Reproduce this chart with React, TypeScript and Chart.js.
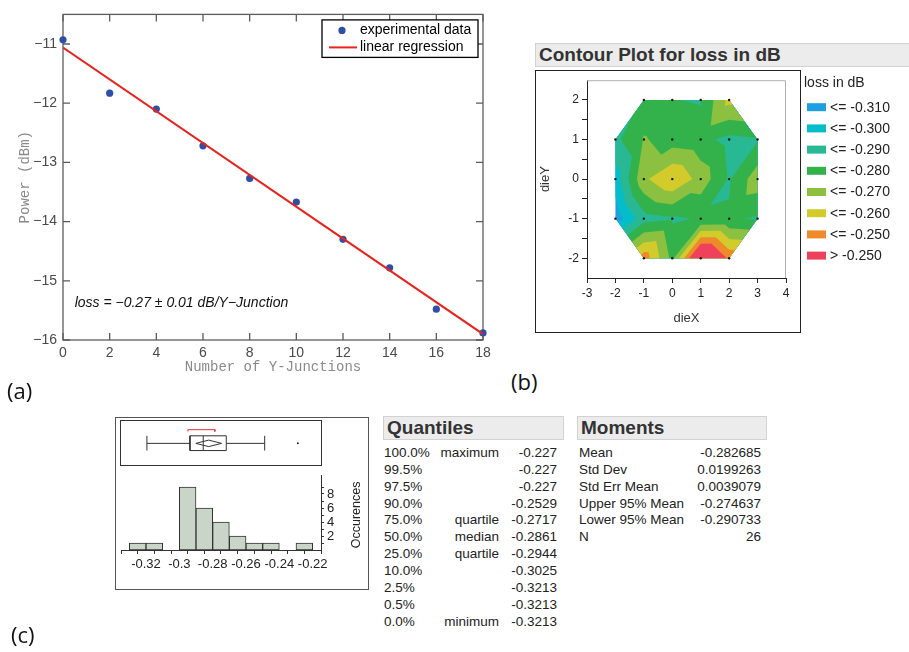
import React, { useEffect, useRef } from 'react';
import { Chart, registerables } from 'chart.js';

Chart.register(...registerables);

const SANS = "'Liberation Sans', Arial, Helvetica, sans-serif";
const MONO = "'Liberation Mono', 'Courier New', monospace";
Chart.defaults.font.family = SANS;

// ---------- Panel (a) ----------
const JUNCTIONS = [0, 2, 4, 6, 8, 10, 12, 14, 16, 18];
const POWER_DBM = [-10.93, -11.83, -12.1, -12.72, -13.27, -13.67, -14.3, -14.78, -15.48, -15.88];
const FIT_X = [0, 18];
const FIT_DBM = [-11.06, -15.9];
const A_X_TICKS = [0, 2, 4, 6, 8, 10, 12, 14, 16, 18];
const A_Y_TICKS = [-16, -15, -14, -13, -12, -11];
const A_LEGEND = ['experimental data', 'linear regression'];
const LOSS_NOTE = 'loss = \u22120.27 \u00b1 0.01 dB/Y\u2212Junction';

// ---------- Panel (b) ----------
const DIE_X = [-1, 0, 1, 2, -2, -1, 0, 1, 2, 3, -2, -1, 0, 1, 2, 3, -2, -1, 0, 1, 2, 3, -1, 0, 1, 2];
const DIE_Y = [2, 2, 2, 2, 1, 1, 1, 1, 1, 1, 0, 0, 0, 0, 0, 0, -1, -1, -1, -1, -1, -1, -2, -2, -2, -2];
const DIE_LOSS = [
  -0.2885, -0.2898, -0.2906, -0.267,
  -0.2925, -0.279, -0.285, -0.287, -0.293, -0.291,
  -0.305, -0.272, -0.2605, -0.274, -0.291, -0.274,
  -0.316, -0.294, -0.291, -0.2895, -0.289, -0.291,
  -0.254, -0.283, -0.227, -0.252,
];
const BAND_EDGES = [-0.31, -0.3, -0.29, -0.28, -0.27, -0.26, -0.25];
const BAND_LABELS = ['<= -0.310', '<= -0.300', '<= -0.290', '<= -0.280', '<= -0.270', '<= -0.260', '<= -0.250', '> -0.250'];
const BAND_COLORS = ['#1e9fe0', '#05bccb', '#29b894', '#33b24b', '#8cc041', '#d3cb2b', '#ef8a2b', '#ef415b'];
const B_X_TICKS = [-3, -2, -1, 0, 1, 2, 3, 4];
const B_Y_TICKS = [-2, -1.5, -1, -0.5, 0, 0.5, 1, 1.5, 2];

// ---------- Panel (c) ----------
const HIST_CENTERS = [-0.325, -0.315, -0.305, -0.295, -0.285, -0.275, -0.265, -0.255, -0.245, -0.235, -0.225];
const HIST_COUNTS = [1, 1, 0, 9, 6, 4, 2, 1, 1, 0, 1];
const HIST_X_TICKS = [-0.33, -0.32, -0.31, -0.3, -0.29, -0.28, -0.27, -0.26, -0.25, -0.24, -0.23, -0.22];
const HIST_X_LABELS = ['', '-0.32', '', '-0.3', '', '-0.28', '', '-0.26', '', '-0.24', '', '-0.22'];
const HIST_Y_TICKS = [1, 2, 3, 4, 5, 6, 7, 8, 9];
const HIST_Y_LABELS = ['', '2', '', '4', '', '6', '', '8', ''];
const BOX_WHISKERS = [-0.3213, -0.2477];
const BOX_QUARTILES = [-0.2944, -0.2861, -0.2717];
const MEAN_DIAMOND = [-0.290733, -0.282685, -0.274637];
const SHORTEST_HALF = [-0.2957, -0.2788];
const OUTLIERS = [-0.227];

const Q_PCT = ['100.0%', '99.5%', '97.5%', '90.0%', '75.0%', '50.0%', '25.0%', '10.0%', '2.5%', '0.5%', '0.0%'];
const Q_NAME = ['maximum', '', '', '', 'quartile', 'median', 'quartile', '', '', '', 'minimum'];
const Q_VAL = ['-0.227', '-0.227', '-0.227', '-0.2529', '-0.2717', '-0.2861', '-0.2944', '-0.3025', '-0.3213', '-0.3213', '-0.3213'];
const M_NAME = ['Mean', 'Std Dev', 'Std Err Mean', 'Upper 95% Mean', 'Lower 95% Mean', 'N'];
const M_VAL = ['-0.282685', '0.0199263', '0.0039079', '-0.274637', '-0.290733', '26'];

const BLUE = '#2f4ea6';
const RED = '#e8241e';

// ---------------- chart A ----------------
function makeA(): any {
  const framePlugin = {
    id: 'frameA',
    beforeDatasetsDraw(chart: any) {
      const { ctx, chartArea: a, scales } = chart;
      ctx.save();
      ctx.strokeStyle = '#5c5c5c';
      ctx.lineWidth = 1.3;
      ctx.strokeRect(a.left, a.top, a.right - a.left, a.bottom - a.top);
      const L = 7;
      ctx.beginPath();
      for (const v of A_X_TICKS) {
        const px = scales.x.getPixelForValue(v);
        ctx.moveTo(px, a.bottom); ctx.lineTo(px, a.bottom - L);
        ctx.moveTo(px, a.top); ctx.lineTo(px, a.top + L);
      }
      for (const v of A_Y_TICKS) {
        const py = scales.y.getPixelForValue(v);
        ctx.moveTo(a.left, py); ctx.lineTo(a.left + L, py);
        ctx.moveTo(a.right, py); ctx.lineTo(a.right - L, py);
      }
      ctx.stroke();
      ctx.font = `italic 14px ${SANS}`;
      ctx.fillStyle = '#111';
      ctx.textBaseline = 'middle';
      ctx.textAlign = 'left';
      ctx.fillText(LOSS_NOTE, scales.x.getPixelForValue(0.5), scales.y.getPixelForValue(-15.38));
      ctx.restore();
    },
    afterDatasetsDraw(chart: any) {
      const { ctx, chartArea: a } = chart;
      const ds = chart.data.datasets;
      ctx.save();
      const lx = a.right - 161, ly = a.top + 5.5, lw = 156, lh = 37.5;
      ctx.fillStyle = '#fff';
      ctx.fillRect(lx, ly, lw, lh);
      ctx.strokeStyle = '#000';
      ctx.lineWidth = 1.3;
      ctx.strokeRect(lx, ly, lw, lh);
      ctx.font = `14px ${SANS}`;
      ctx.textBaseline = 'middle';
      ctx.textAlign = 'left';
      ctx.fillStyle = ds[0].backgroundColor;
      ctx.beginPath();
      ctx.arc(lx + 20, ly + 10.5, 3.6, 0, Math.PI * 2);
      ctx.fill();
      ctx.fillStyle = '#000';
      ctx.fillText(ds[0].label, lx + 38, ly + 10.5);
      ctx.strokeStyle = ds[1].borderColor;
      ctx.lineWidth = 2;
      ctx.beginPath();
      ctx.moveTo(lx + 7, ly + 27.5);
      ctx.lineTo(lx + 35, ly + 27.5);
      ctx.stroke();
      ctx.fillText(ds[1].label, lx + 38, ly + 27);
      ctx.restore();
    },
  };
  const minus = (v: number) => (v < 0 ? '\u2212' + Math.abs(v) : String(v));
  return {
    type: 'scatter',
    data: {
      datasets: [
        {
          label: A_LEGEND[0],
          data: JUNCTIONS.map((x, i) => ({ x, y: POWER_DBM[i] })),
          backgroundColor: BLUE,
          borderColor: BLUE,
          pointRadius: 3.6,
          pointBorderWidth: 0,
          showLine: false,
          clip: false,
          order: 1,
        },
        {
          label: A_LEGEND[1],
          data: FIT_X.map((x, i) => ({ x, y: FIT_DBM[i] })),
          borderColor: RED,
          backgroundColor: RED,
          borderWidth: 2,
          pointRadius: 0,
          showLine: true,
          order: 0,
        },
      ],
    },
    options: {
      responsive: false,
      animation: false,
      events: [],
      layout: { padding: { top: 9, right: 17, left: 0, bottom: 0 } },
      plugins: { legend: { display: false }, tooltip: { enabled: false } },
      scales: {
        x: {
          type: 'linear', min: 0, max: 18,
          afterBuildTicks: (s: any) => { s.ticks = A_X_TICKS.map((value) => ({ value })); },
          afterFit: (s: any) => { s.height = 40; },
          ticks: { font: { size: 14 }, color: '#4a4a4a', padding: 5, maxRotation: 0, autoSkip: false, callback: (v: any) => minus(v) },
          grid: { display: false, drawTicks: false },
          border: { display: false },
          title: { display: true, text: 'Number of Y-Junctions', font: { family: MONO, size: 14 }, color: '#8a8a8a', padding: { top: 0, bottom: 4 } },
        },
        y: {
          type: 'linear', min: -16, max: -10.5,
          afterBuildTicks: (s: any) => { s.ticks = A_Y_TICKS.map((value) => ({ value })); },
          afterFit: (s: any) => { s.width = 63; },
          ticks: { font: { size: 14 }, color: '#4a4a4a', padding: 6, autoSkip: false, callback: (v: any) => minus(v) },
          grid: { display: false, drawTicks: false },
          border: { display: false },
          title: { display: true, text: 'Power (dBm)', font: { family: MONO, size: 14 }, color: '#8a8a8a', padding: { top: 16.5, bottom: 0 } },
        },
      },
    },
    plugins: [framePlugin],
  };
}

// ---------------- chart B (contour) ----------------
function buildTriangles() {
  const map = new Map<string, any>();
  DIE_X.forEach((x, i) => map.set(`${x},${DIE_Y[i]}`, { x, y: DIE_Y[i], v: DIE_LOSS[i] }));
  const xs = Array.from(new Set(DIE_X)).sort((a, b) => a - b);
  const ys = Array.from(new Set(DIE_Y)).sort((a, b) => a - b);
  const tris: any[] = [];
  for (const x0 of xs) {
    for (const y0 of ys) {
      const a = map.get(`${x0},${y0}`);
      const b = map.get(`${x0 + 1},${y0}`);
      const c = map.get(`${x0 + 1},${y0 + 1}`);
      const d = map.get(`${x0},${y0 + 1}`);
      const pts = [a, b, c, d].filter(Boolean);
      if (pts.length === 4) { tris.push([a, b, c], [a, c, d]); }
      else if (pts.length === 3) tris.push(pts);
    }
  }
  return tris;
}

function clipPoly(poly: any[], f: (p: any) => number) {
  const out: any[] = [];
  for (let i = 0; i < poly.length; i++) {
    const a = poly[i], b = poly[(i + 1) % poly.length];
    const fa = f(a), fb = f(b);
    if (fa >= 0) out.push(a);
    if ((fa >= 0) !== (fb >= 0)) {
      const t = fa / (fa - fb);
      out.push({ x: a.x + t * (b.x - a.x), y: a.y + t * (b.y - a.y), v: a.v + t * (b.v - a.v) });
    }
  }
  return out;
}

function makeB(): any {
  const contourPlugin = {
    id: 'contour',
    beforeDatasetsDraw(chart: any) {
      const { ctx, chartArea: a, scales } = chart;
      const sx = scales.x, sy = scales.y;
      ctx.save();
      ctx.strokeStyle = '#b0b0b0';
      ctx.lineWidth = 1;
      ctx.beginPath();
      ctx.moveTo(a.left, a.top + 0.5); ctx.lineTo(a.right - 0.5, a.top + 0.5); ctx.lineTo(a.right - 0.5, a.bottom);
      ctx.stroke();
      const tris = buildTriangles();
      // layered fill: each layer covers everything above its lower edge, one path per layer
      for (let k = 0; k < BAND_COLORS.length; k++) {
        const lo = k === 0 ? -Infinity : BAND_EDGES[k - 1];
        ctx.beginPath();
        for (const tri of tris) {
          const poly = lo > -Infinity ? clipPoly(tri, (p) => p.v - lo) : tri;
          if (poly.length < 3) continue;
          poly.forEach((p: any, i: number) => {
            const px = sx.getPixelForValue(p.x), py = sy.getPixelForValue(p.y);
            if (i) ctx.lineTo(px, py); else ctx.moveTo(px, py);
          });
          ctx.closePath();
        }
        ctx.fillStyle = BAND_COLORS[k];
        ctx.fill('nonzero');
      }
      ctx.restore();
    },
    afterDraw(chart: any) {
      const { ctx, chartArea: a } = chart;
      ctx.save();
      ctx.font = `14px ${SANS}`;
      ctx.fillStyle = '#222';
      ctx.textAlign = 'left';
      ctx.textBaseline = 'middle';
      const x0 = a.right + 18;
      ctx.fillText('loss in dB', x0, a.top + 3);
      BAND_LABELS.forEach((lab, i) => {
        const cy = a.top + 27 + 21.2 * i;
        ctx.fillStyle = BAND_COLORS[i];
        ctx.fillRect(x0 + 3, cy - 4, 19, 8);
        ctx.fillStyle = '#222';
        ctx.fillText(lab, x0 + 26, cy + 0.5);
      });
      ctx.restore();
    },
  };
  const axisCommon = {
    grid: { display: true, drawOnChartArea: false, drawTicks: true, tickLength: 5, tickColor: '#222', tickWidth: 1 },
    border: { display: true, color: '#222', width: 1 },
  };
  return {
    type: 'scatter',
    data: {
      datasets: [
        {
          label: 'dies',
          data: DIE_X.map((x, i) => ({ x, y: DIE_Y[i] })),
          backgroundColor: '#111',
          borderColor: '#111',
          pointRadius: 1.2,
          pointBorderWidth: 0,
          clip: false,
        },
      ],
    },
    options: {
      responsive: false,
      animation: false,
      events: [],
      layout: { padding: { top: 8, right: 123, left: 0, bottom: 0 } },
      plugins: { legend: { display: false }, tooltip: { enabled: false } },
      scales: {
        x: {
          type: 'linear', min: -3, max: 4,
          afterBuildTicks: (s: any) => { s.ticks = B_X_TICKS.map((value) => ({ value })); },
          afterFit: (s: any) => { s.height = 54; },
          ticks: { font: { size: 12 }, color: '#222', padding: 3, maxRotation: 0, autoSkip: false, callback: (v: any) => String(v) },
          ...axisCommon,
          title: { display: true, text: 'dieX', font: { size: 13 }, color: '#333', padding: { top: 0, bottom: 6 } },
        },
        y: {
          type: 'linear', min: -2.5, max: 2.5,
          afterBuildTicks: (s: any) => { s.ticks = B_Y_TICKS.map((value) => ({ value })); },
          afterFit: (s: any) => { s.width = 52; },
          ticks: { font: { size: 12 }, color: '#222', padding: 3, autoSkip: false, callback: (v: any) => (Number.isInteger(v) ? String(v) : '') },
          ...axisCommon,
          title: { display: true, text: 'dieY', font: { size: 13 }, color: '#333', padding: { top: 3, bottom: 0 } },
        },
      },
    },
    plugins: [contourPlugin],
  };
}

// ---------------- chart C1 (box plot) ----------------
const C_X_MIN = -0.335;
const C_X_MAX = -0.215;

function makeC1(): any {
  const yc = 0.49, yLo = 0.29, yHi = 0.7, dH = 0.09, brTop = 0.87, brEnd = 0.82;
  const [wLo, wHi] = BOX_WHISKERS;
  const [q1, med, q3] = BOX_QUARTILES;
  const [mLo, mean, mHi] = MEAN_DIAMOND;
  const [sLo, sHi] = SHORTEST_HALF;
  const line = (pts: number[][], color = '#333') => ({
    data: pts.map(([x, y]) => ({ x, y })),
    showLine: true,
    borderColor: color,
    borderWidth: 1,
    pointRadius: 0,
    fill: false,
    clip: false,
  });
  return {
    type: 'scatter',
    data: {
      datasets: [
        line([[wLo, yLo], [wLo, yHi]]),
        line([[wLo, yc], [q1, yc]]),
        line([[q3, yc], [wHi, yc]]),
        line([[wHi, yLo], [wHi, yHi]]),
        line([[q1, yLo], [q3, yLo], [q3, yHi], [q1, yHi], [q1, yLo]]),
        line([[med, yLo], [med, yHi]]),
        line([[mLo, yc], [mean, yc + dH], [mHi, yc], [mean, yc - dH], [mLo, yc]]),
        line([[sLo, brEnd], [sLo, brTop], [sHi, brTop], [sHi, brEnd]], '#e0303a'),
        {
          data: OUTLIERS.map((x) => ({ x, y: yc })),
          backgroundColor: '#222',
          pointRadius: 1,
          pointBorderWidth: 0,
          showLine: false,
        },
      ],
    },
    options: {
      responsive: false,
      animation: false,
      events: [],
      layout: { padding: 0 },
      plugins: { legend: { display: false }, tooltip: { enabled: false } },
      scales: {
        x: { type: 'linear', display: false, min: C_X_MIN, max: C_X_MAX },
        y: { type: 'linear', display: false, min: 0, max: 1 },
      },
    },
  };
}

// ---------------- chart C2 (histogram) ----------------
function makeC2(): any {
  const titlePlugin = {
    id: 'occTitle',
    afterDraw(chart: any) {
      const { ctx, chartArea: a } = chart;
      ctx.save();
      ctx.translate(a.right + 36, (a.top + a.bottom) / 2 + 2);
      ctx.rotate(-Math.PI / 2);
      ctx.font = `12.5px ${SANS}`;
      ctx.fillStyle = '#222';
      ctx.textAlign = 'center';
      ctx.textBaseline = 'middle';
      ctx.fillText('Occurences', 0, 0);
      ctx.restore();
    },
  };
  return {
    type: 'bar',
    data: {
      datasets: [
        {
          label: 'Occurences',
          data: HIST_CENTERS.map((x, i) => ({ x, y: HIST_COUNTS[i] })),
          backgroundColor: '#c9d5c8',
          borderColor: '#333',
          borderWidth: 1,
          borderSkipped: false,
          barPercentage: 1,
          categoryPercentage: 1,
        },
      ],
    },
    options: {
      responsive: false,
      animation: false,
      events: [],
      layout: { padding: { left: 11, top: 0, right: 0, bottom: 0 } },
      plugins: { legend: { display: false }, tooltip: { enabled: false } },
      scales: {
        x: {
          type: 'linear', min: C_X_MIN, max: C_X_MAX, offset: false,
          afterBuildTicks: (s: any) => { s.ticks = HIST_X_TICKS.map((value) => ({ value })); },
          afterFit: (s: any) => { s.height = 39; },
          ticks: { font: { size: 13 }, color: '#222', padding: 3, maxRotation: 0, autoSkip: false, callback: (_v: any, i: number) => HIST_X_LABELS[i] },
          grid: { display: true, drawOnChartArea: false, drawTicks: true, tickLength: 4, tickColor: '#333' },
          border: { display: true, color: '#333', width: 1 },
        },
        y: {
          type: 'linear', position: 'right', min: 0, max: 10.6,
          afterBuildTicks: (s: any) => { s.ticks = HIST_Y_TICKS.map((value) => ({ value })); },
          afterFit: (s: any) => { s.width = 49; },
          ticks: { font: { size: 13 }, color: '#222', padding: 3, autoSkip: false, callback: (_v: any, i: number) => HIST_Y_LABELS[i] },
          grid: { display: true, drawOnChartArea: false, drawTicks: true, tickLength: 3, tickColor: '#333' },
          border: { display: true, color: '#333', width: 1 },
        },
      },
    },
    plugins: [titlePlugin],
  };
}

function ChartCanvas({ left, top, width, height, make }: any) {
  const ref = useRef<HTMLCanvasElement>(null);
  useEffect(() => {
    const chart = new Chart(ref.current as HTMLCanvasElement, make());
    return () => chart.destroy();
  }, []);
  return (
    <canvas
      ref={ref}
      width={width}
      height={height}
      style={{ position: 'absolute', left, top, width, height }}
    />
  );
}

const headerStyle: any = {
  position: 'absolute',
  background: '#ececec',
  border: '1px solid #d2d2d2',
  boxSizing: 'border-box',
  fontWeight: 'bold',
  fontSize: 19,
  color: '#333',
  lineHeight: '22px',
  paddingLeft: 3,
  whiteSpace: 'nowrap',
};

const cellStyle: any = {
  position: 'absolute',
  fontSize: 13.5,
  color: '#222',
  lineHeight: '17px',
  whiteSpace: 'nowrap',
};

const ROW_TOP = 444;
const ROW_H = 16.87;

export default function App() {
  const panelLabel: any = { position: 'absolute', fontFamily: "'Open Sans', sans-serif", fontSize: 22, lineHeight: '22px', color: '#111' };
  return (
    <div style={{ position: 'absolute', left: 0, top: 0, width: 909, height: 652, background: '#fff', overflow: 'hidden', fontFamily: SANS }}>
      {/* Panel (a) */}
      <ChartCanvas left={0} top={0} width={500} height={380} make={makeA} />
      <div style={{ ...panelLabel, left: 7, top: 379 }}>(a)</div>

      {/* Panel (b) */}
      <div style={{ ...headerStyle, left: 535, top: 43, width: 374, height: 24, borderRight: 'none' }}>Contour Plot for loss in dB</div>
      <div style={{ position: 'absolute', left: 535, top: 70, width: 266, height: 263, border: '1.5px solid #222', boxSizing: 'border-box' }} />
      <ChartCanvas left={535} top={70} width={374} height={262} make={makeB} />
      <div style={{ ...panelLabel, left: 511, top: 370 }}>(b)</div>

      {/* Panel (c) */}
      <div style={{ position: 'absolute', left: 115, top: 417, width: 254, height: 173, border: '1px solid #555', boxSizing: 'border-box' }} />
      <div style={{ position: 'absolute', left: 120, top: 420, width: 202, height: 46, border: '1px solid #333', boxSizing: 'border-box' }} />
      <ChartCanvas left={121} top={421} width={200} height={44} make={makeC1} />
      <ChartCanvas left={110} top={465} width={260} height={124} make={makeC2} />
      <div style={{ ...panelLabel, left: 11, top: 623 }}>(c)</div>

      {/* Quantiles */}
      <div style={{ ...headerStyle, left: 383, top: 416, width: 181, height: 24 }}>Quantiles</div>
      {Q_PCT.map((p, i) => (
        <React.Fragment key={'q' + i}>
          <div style={{ ...cellStyle, left: 384, top: ROW_TOP + ROW_H * i }}>{p}</div>
          <div style={{ ...cellStyle, left: 399, width: 100, textAlign: 'right', top: ROW_TOP + ROW_H * i }}>{Q_NAME[i]}</div>
          <div style={{ ...cellStyle, left: 457, width: 100, textAlign: 'right', top: ROW_TOP + ROW_H * i }}>{Q_VAL[i]}</div>
        </React.Fragment>
      ))}

      {/* Moments */}
      <div style={{ ...headerStyle, left: 577, top: 416, width: 190, height: 24 }}>Moments</div>
      {M_NAME.map((n, i) => (
        <React.Fragment key={'m' + i}>
          <div style={{ ...cellStyle, left: 579, top: ROW_TOP + ROW_H * i }}>{n}</div>
          <div style={{ ...cellStyle, left: 661, width: 100, textAlign: 'right', top: ROW_TOP + ROW_H * i }}>{M_VAL[i]}</div>
        </React.Fragment>
      ))}
    </div>
  );
}
